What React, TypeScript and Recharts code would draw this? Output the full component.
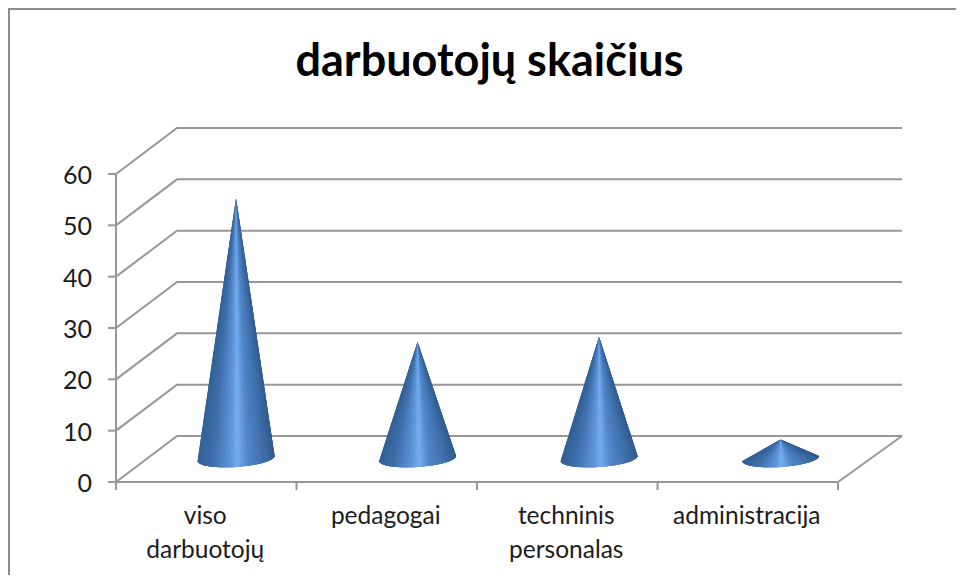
import React from "react";
import { BarChart, Bar, XAxis, YAxis, CartesianGrid } from "recharts";

const categories = ["viso darbuotojų", "pedagogai", "techninis personalas", "administracija"];
const values = [51, 23, 24, 4];
const yTicks = [0, 10, 20, 30, 40, 50, 60];
const rows = categories.map((name, i) => ({ name, value: values[i] }));

const DX = 61;
const DXR = 64;
const DY = -46;
const FONT = "Lato, 'Open Sans', sans-serif";
const GRID = "#979797";
const TEXT = "#1c1c1c";
const RAMP: [number, number[]][] = [
  [0, [50, 96, 150]],
  [0.2, [64, 112, 172]],
  [0.42, [92, 148, 216]],
  [0.52, [118, 172, 240]],
  [0.66, [80, 134, 200]],
  [0.85, [64, 112, 172]],
  [1, [48, 92, 144]],
];

function shade(t: number) {
  let i = 0;
  while (i < RAMP.length - 2 && t > RAMP[i + 1][0]) i++;
  const [a, ca] = RAMP[i];
  const [b, cb] = RAMP[i + 1];
  const f = (t - a) / (b - a);
  const c = ca.map((v, k) => Math.round(v + (cb[k] - v) * f));
  return `rgb(${c[0]},${c[1]},${c[2]})`;
}

function Grid(props: any) {
  const { x1, x2, y1, y, height } = props;
  const isFloor = Math.abs(y1 - (y + height)) < 1;
  return (
    <g>
      <polyline
        points={`${x1},${y1} ${x1 + DX},${y1 + DY} ${x2 + DXR},${y1 + DY}`}
        fill="none"
        stroke={GRID}
        strokeWidth={2}
      />
      {isFloor ? (
        <line x1={x2} y1={y1} x2={x2 + DXR} y2={y1 + DY} stroke={GRID} strokeWidth={2} />
      ) : null}
    </g>
  );
}

function Cone(props: any) {
  const { x, y, width, height, index } = props;
  const cx = x + width / 2 + 30 + index;
  const cy = y + height + DY / 2 - 0.5;
  const tipY = y + DY / 2 + 1;
  const rx = 38.5;
  const STEPS = 48;
  const pt = (t: number) => {
    const a = Math.PI * Math.min(t, 1);
    return [cx - rx * Math.cos(a), cy + 2.5 * Math.cos(a) + 8.5 * Math.sin(a)];
  };
  const slices = [];
  for (let i = 0; i < STEPS; i++) {
    const p = pt(i / STEPS);
    const q = pt((i + 4) / STEPS);
    const r = pt((i + 1) / STEPS);
    const col = shade((p[0] + r[0] - 2 * cx + 2 * rx) / (4 * rx));
    slices.push(
      <polygon key={i} points={`${cx},${tipY} ${p[0]},${p[1]} ${r[0]},${r[1]} ${q[0]},${q[1]}`} fill={col} />
    );
  }
  return <g>{slices}</g>;
}

function XTick(props: any) {
  const { x, y, payload, width, visibleTicksCount, index } = props;
  const band = width / visibleTicksCount;
  const words = String(payload.value).split(" ");
  const axisY = y - 8;
  return (
    <g>
      <line x1={x - band / 2} x2={x - band / 2} y1={axisY} y2={axisY + 8} stroke={GRID} strokeWidth={2} />
      {index === visibleTicksCount - 1 ? (
        <line x1={x + band / 2} x2={x + band / 2} y1={axisY} y2={axisY + 8} stroke={GRID} strokeWidth={2} />
      ) : null}
      <text x={x - 1} y={y} textAnchor="middle" fontFamily={FONT} fontSize={24.5} fill={TEXT}>
        {words.map((w: string, i: number) => (
          <tspan key={i} x={x - 1} dy={34}>{w}</tspan>
        ))}
      </text>
    </g>
  );
}

function YTick(props: any) {
  const { x, y, payload } = props;
  return (
    <text x={x} y={y + 10} textAnchor="end" fontFamily={FONT} fontSize={25} fill={TEXT}>
      {payload.value}
    </text>
  );
}

export default function App() {
  return (
    <div style={{ position: "relative", width: 948, height: 567, overflow: "visible" }}>
      <div
        style={{
          position: "absolute", left: 0, top: 0, width: 956, height: 575,
          borderLeft: "2.5px solid #8c8c8c", borderTop: "2.5px solid #8c8c8c", boxSizing: "border-box",
        }}
      />
      <div
        style={{
          position: "absolute", left: 15, right: 0, top: 24, textAlign: "center",
          fontFamily: FONT, fontWeight: 700, fontSize: 45, color: "#000", lineHeight: "54px",
        }}
      >
        darbuotojų skaičius
      </div>
      <BarChart
        width={948}
        height={567}
        data={rows}
        margin={{ top: 166, right: 118, bottom: 63, left: 68 }}
        barCategoryGap="28%"
        style={{ position: "absolute", left: 0, top: 0 }}
      >
        <CartesianGrid vertical={false} horizontal={(p: any) => <Grid key={p.key} {...p} />} />
        <XAxis
          dataKey="name"
          axisLine={{ stroke: GRID, strokeWidth: 2 }}
          tickLine={false}
          tickSize={8}
          tickMargin={0}
          tick={<XTick />}
          interval={0}
        />
        <YAxis
          type="number"
          domain={[0, 60]}
          ticks={yTicks}
          width={40}
          axisLine={{ stroke: GRID, strokeWidth: 2 }}
          tickLine={{ stroke: GRID, strokeWidth: 2 }}
          tickSize={8}
          tickMargin={16}
          tick={<YTick />}
          interval={0}
        />
        <Bar dataKey="value" isAnimationActive={false} shape={<Cone />} />
      </BarChart>
    </div>
  );
}
